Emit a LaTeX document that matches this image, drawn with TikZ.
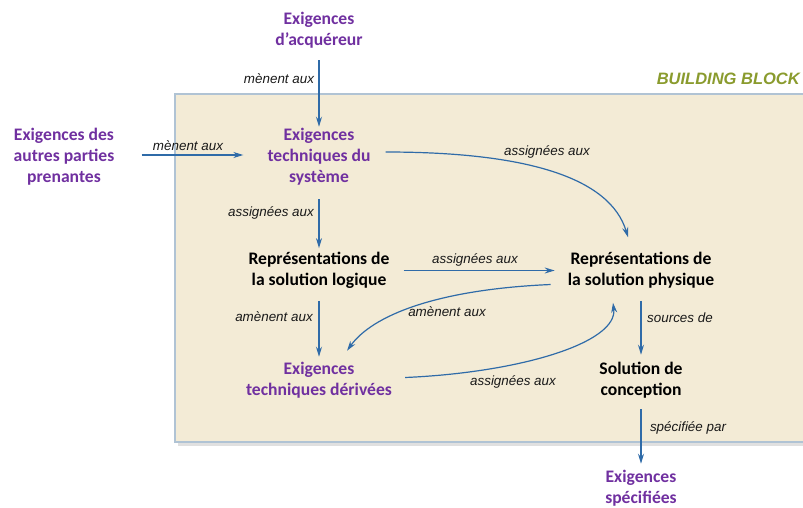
\documentclass[tikz,border=0pt]{standalone}
\usepackage{fontspec}
\setmainfont{Carlito}
\newfontfamily\lblfont{Liberation Sans}
\usetikzlibrary{arrows.meta}
\definecolor{purp}{HTML}{7030A0}
\definecolor{arr}{HTML}{2F6BA8}
\definecolor{blockfill}{HTML}{F3EBD6}
\definecolor{blockline}{HTML}{B0C3D4}
\definecolor{olive}{HTML}{8A9B2E}
\begin{document}
\begin{tikzpicture}[x=1pt,y=-1pt,
 box/.style={align=center,font=\fontsize{17.6}{21}\selectfont\bfseries,inner sep=0pt},
 req/.style={box,text=purp},
 rep/.style={box,text=black},
 lbl/.style={font=\lblfont\itshape\fontsize{13.4}{15}\selectfont,inner sep=0pt,text=black!90},
 flow/.style={draw=arr,line width=1.2pt,-{Stealth[length=10pt,width=6pt]}},
]
\useasboundingbox (0,0) rectangle (803,507);
\fill[black!12] (178,97) rectangle (812,446);
\filldraw[fill=blockfill,draw=blockline,line width=2.8pt] (175,94) rectangle (810,442);
\node[font=\lblfont\itshape\bfseries\fontsize{16.5}{18}\selectfont,text=olive,anchor=east,inner sep=0pt] (bb) at (800,79) {BUILDING BLOCK};

\node[req] (acq) at (319,30) {Exigences\\d’acquéreur};
\node[req] (autres) at (64,156.5) {Exigences des\\autres parties\\prenantes};
\node[req] (sys) at (319,156.5) {Exigences\\techniques du\\système};
\node[rep] (log) at (319,270.5) {Représentations de\\la solution logique};
\node[rep] (phy) at (641,270.5) {Représentations de\\la solution physique};
\node[req] (der) at (319,380) {Exigences\\techniques dérivées};
\node[rep] (sol) at (641,380) {Solution de\\conception};
\node[req] (spec) at (641,488) {Exigences\\spécifiées};

\draw[flow] ([yshift=-12pt]acq.south) -- ([yshift=1pt]sys.north);
\draw[flow] ([xshift=27pt,yshift=1.5pt]autres.east) -- ([xshift=-24pt,yshift=1.5pt]sys.west);
\draw[flow] ([yshift=-14pt]sys.south) -- ([yshift=4pt]log.north);
\draw[flow] ([xshift=14pt]log.east) -- ([xshift=-13pt]phy.west);
\draw[flow] ([yshift=-12pt]log.south) -- ([yshift=5pt]der.north);
\draw[flow] ([yshift=-12pt]phy.south) -- ([yshift=7pt]sol.north);
\draw[flow] ([yshift=-11pt]sol.south) -- ([yshift=6pt]spec.north);
\draw[flow] ([xshift=15pt,yshift=4.5pt]sys.east) .. controls +(140,0) and +(-18,-60) .. ([xshift=-13pt,yshift=15pt]phy.north);
\draw[flow] ([xshift=-17pt,yshift=-14pt]phy.west) .. controls +(-115,5) and +(25,-35) .. ([xshift=28pt,yshift=11pt]der.north);
\draw[flow] ([xshift=13pt,yshift=2.5pt]der.east) .. controls +(115,-5) and +(5,40) .. ([xshift=-28pt,yshift=-14pt]phy.south);

\node[lbl] (l1) at (279,78.5) {mènent aux};
\node[lbl] (l2) at (188,145.5) {mènent aux};
\node[lbl] (l3) at (547,151.5) {assignées aux};
\node[lbl] (l4) at (271,212.5) {assignées aux};
\node[lbl] (l5) at (475,259.5) {assignées aux};
\node[lbl] (l6) at (447,311.5) {amènent aux};
\node[lbl] (l7) at (274,316.5) {amènent aux};
\node[lbl] (l8) at (513,381.5) {assignées aux};
\node[lbl] (l9) at (680,317.5) {sources de};
\node[lbl] (l10) at (688,427.5) {spécifiée par};
\end{tikzpicture}
\end{document}
